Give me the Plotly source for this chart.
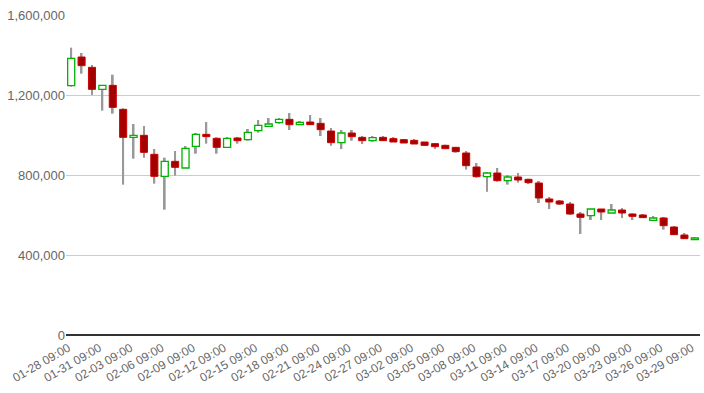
import pandas as pd
import plotly.graph_objects as go

dates = [d.strftime("%m-%d 09:00") for d in pd.date_range("2018-01-28", "2018-03-29", freq="D")]

open_ = [1246700, 1390000, 1338300, 1228300, 1248300, 1128300, 988300, 998300, 903300, 793300,
         868300, 835000, 943300, 1003300, 983300, 938300, 985000, 976700, 1021700, 1043300,
         1061700, 1078300, 1051700, 1065000, 1058300, 1020000, 961700, 1010000, 988300, 971700,
         988300, 981700, 976700, 973300, 965000, 956700, 948300, 938300, 910000, 840000,
         791700, 810000, 771700, 790000, 778300, 760000, 680000, 670000, 655000, 605000,
         596700, 630000, 610000, 625000, 605000, 600000, 573300, 585000, 540000, 500000,
         476700]
high = [1436700, 1410000, 1350000, 1250000, 1301700, 1133300, 1055000, 1045000, 930000, 886700,
        920000, 945000, 1010000, 1065000, 988300, 990000, 990000, 1030000, 1075000, 1085000,
        1085000, 1110000, 1070000, 1100000, 1085000, 1035000, 1025000, 1025000, 995000, 995000,
        995000, 990000, 980000, 980000, 965000, 960000, 951700, 938300, 920000, 860000,
        815000, 835000, 800000, 810000, 781700, 770000, 690000, 675000, 665000, 615000,
        630000, 630000, 655000, 635000, 608300, 605000, 595000, 590000, 545000, 510000,
        490000]
low = [1241700, 1306700, 1200000, 1121700, 1106700, 751700, 881700, 886700, 756700, 626700,
       796700, 835000, 906700, 956700, 906700, 938300, 956700, 971700, 1011700, 1043300,
       1056700, 1025000, 1051700, 1050000, 995000, 946700, 930000, 971700, 955000, 966700,
       971700, 965000, 960000, 955000, 948300, 930000, 931700, 911700, 826700, 786700,
       716700, 766700, 751700, 761700, 755000, 660000, 630000, 650000, 600000, 505000,
       575000, 575000, 610000, 585000, 575000, 586700, 573300, 526700, 501700, 481700,
       476700]
close = [1383300, 1346700, 1228300, 1248300, 1138300, 988300, 998300, 913300, 793300, 868300,
         838300, 933300, 1003300, 991700, 938300, 983300, 971700, 1013300, 1048300, 1055000,
         1078300, 1051700, 1063300, 1051700, 1026700, 961700, 1010000, 991700, 971700, 986700,
         971700, 965000, 960000, 955000, 948300, 941700, 931700, 916700, 846700, 791700,
         810000, 771700, 790000, 775000, 761700, 685000, 665000, 655000, 605000, 588300,
         630000, 615000, 625000, 610000, 593300, 586700, 585000, 546700, 501700, 481700,
         485000]

y_ticks = [0, 400000, 800000, 1200000, 1600000]

inc = [c >= o for o, c in zip(open_, close)]
body_base = [min(o, c) for o, c in zip(open_, close)]
body_h = [abs(c - o) for o, c in zip(open_, close)]

fig = go.Figure()
fig.add_trace(go.Bar(
    x=dates, y=[h - l for h, l in zip(high, low)], base=low,
    width=0.18, marker=dict(color="#999999", line=dict(width=0)),
    hoverinfo="skip", showlegend=False))
fig.add_trace(go.Bar(
    x=[d for d, i in zip(dates, inc) if i],
    y=[h for h, i in zip(body_h, inc) if i],
    base=[b for b, i in zip(body_base, inc) if i],
    width=0.68, marker=dict(color="#ffffff", line=dict(color="#00b300", width=1.3)),
    showlegend=False))
fig.add_trace(go.Bar(
    x=[d for d, i in zip(dates, inc) if not i],
    y=[h for h, i in zip(body_h, inc) if not i],
    base=[b for b, i in zip(body_base, inc) if not i],
    width=0.68, marker=dict(color="#a50000", line=dict(color="#cc0000", width=1)),
    showlegend=False))

fig.update_layout(
    width=704, height=393,
    margin=dict(l=66, r=4, t=15, b=58),
    barmode="overlay",
    plot_bgcolor="white", paper_bgcolor="white",
    font=dict(family="Liberation Sans, Arial, sans-serif", size=12, color="#666666"),
    xaxis=dict(type="category", categoryorder="array", categoryarray=dates,
               range=[-0.5, len(dates) - 0.5], automargin=False,
               tickmode="array", tickvals=dates[::3], ticktext=dates[::3],
               tickangle=-30, showgrid=False, showline=False, ticks="",
               ticklabelshift=-3, ticklabelstandoff=3,
               tickfont=dict(size=12, color="#666666")),
    yaxis=dict(range=[0, 1600000], tickvals=y_ticks, tickformat=",d", automargin=False,
               showgrid=True, gridcolor="#cccccc", gridwidth=1,
               zeroline=True, zerolinecolor="#333333", zerolinewidth=1.5,
               showline=False, ticks="", tickfont=dict(size=13, color="#666666")),
)

fig.write_html("out.html", config={"displayModeBar": False},
               post_script="document.body.style.margin='0';")
